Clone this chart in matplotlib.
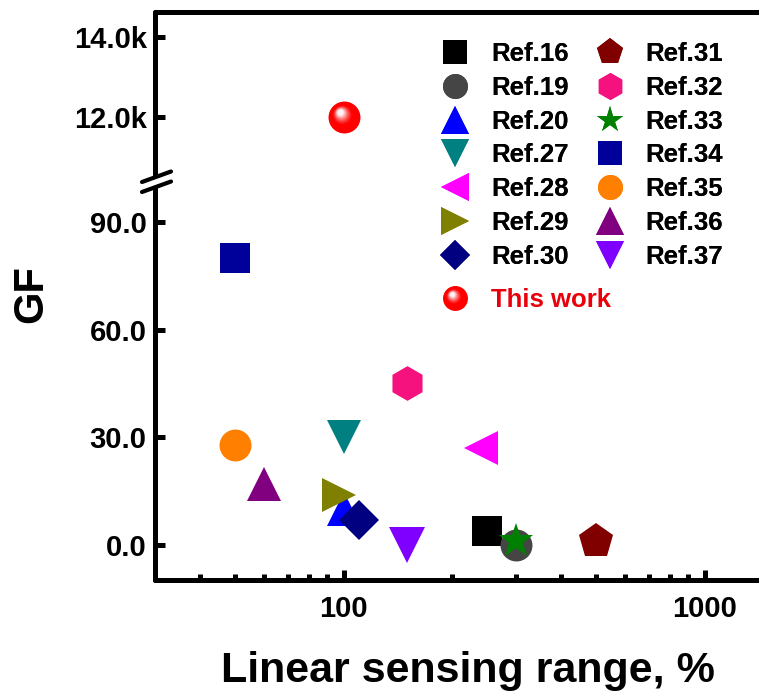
import numpy as np
import matplotlib
matplotlib.use('Agg')
import matplotlib.pyplot as plt
from matplotlib.path import Path
from matplotlib.lines import Line2D
from matplotlib.legend_handler import HandlerTuple
from matplotlib.ticker import FixedLocator, FuncFormatter, NullFormatter, LogLocator

plt.rcParams['font.family'] = ['Liberation Sans', 'DejaVu Sans']
plt.rcParams['font.weight'] = 'bold'

# literature values: linear sensing range (%) and gauge factor
refs = ['Ref.16', 'Ref.19', 'Ref.20', 'Ref.27', 'Ref.28', 'Ref.29', 'Ref.30',
        'Ref.31', 'Ref.32', 'Ref.33', 'Ref.34', 'Ref.35', 'Ref.36', 'Ref.37']
rng = [250, 300, 100, 100, 240, 97, 110, 500, 150, 300, 50, 50, 60, 150]
gf = [4, 0, 10, 30, 27, 14, 7, 1, 45, 1, 80, 28, 17, 0]
markers = ['s', 'o', '^', 'v', '<', '>', 'D', 'p', 'h', '*', 's', 'o', '^', 'v']
colors = ['#000000', '#454545', '#0000ff', '#008080', '#ff00ff', '#808000', '#000080',
          '#800000', '#f5127f', '#008000', '#00009a', '#ff8000', '#800080', '#8000ff']
sizes = [21.5, 23, 25, 25, 25, 25, 20, 26, 25, 26, 21.5, 23, 25, 26]

this_rng = 100
this_gf = 12000

W, H = 759, 698
fig = plt.figure(figsize=(W / 100, H / 100), dpi=100)

def fx(x):
    return x / W

def fy(y):
    return 1 - y / H

left = fx(155)
ax = fig.add_axes([left, fy(580), 1 - left, fy(180) - fy(580)])
ax_top = fig.add_axes([left, fy(180), 1 - left, fy(12) - fy(180)], sharex=ax)

ax.set_xscale('log')
ax.set_xlim(30, 1413)
ax.set_ylim(-9.75, 101.7)
ax_top.set_ylim(10425, 14625)

lw = 3.6
for a in (ax, ax_top):
    a.spines['right'].set_visible(False)
    for s in a.spines.values():
        s.set_linewidth(lw)
        s.set_capstyle('round')
ax.spines['top'].set_visible(False)
ax_top.spines['bottom'].set_visible(False)

ax.xaxis.set_major_locator(FixedLocator([100, 1000]))
ax.xaxis.set_major_formatter(FuncFormatter(lambda v, p: f'{v:g}'))
ax.xaxis.set_minor_locator(LogLocator(base=10, subs=np.arange(2, 10)))
ax.xaxis.set_minor_formatter(NullFormatter())
ax.yaxis.set_major_locator(FixedLocator([0, 30, 60, 90]))
ax.yaxis.set_major_formatter(FuncFormatter(lambda v, p: f'{v:.1f}'))
ax_top.yaxis.set_major_locator(FixedLocator([12000, 14000]))
ax_top.yaxis.set_major_formatter(FuncFormatter(lambda v, p: f'{v / 1000:.1f}k'))

ax.tick_params(axis='both', which='major', direction='in', length=7, width=lw,
               labelsize=21)
ax.tick_params(axis='x', which='major', pad=11)
ax.tick_params(axis='x', which='minor', direction='in', length=4, width=lw)
ax.tick_params(axis='y', which='minor', left=False)
ax.tick_params(axis='y', pad=6)
ax_top.tick_params(axis='y', which='major', direction='in', length=7, width=lw,
                   labelsize=21, pad=6)
ax_top.tick_params(axis='x', which='both', bottom=False, top=False, labelbottom=False)
for a in (ax, ax_top):
    for t in a.get_xticklabels() + a.get_yticklabels():
        t.set_fontweight('bold')

handles = []
for i in range(len(refs)):
    h, = ax.plot(rng[i], gf[i], linestyle='none', marker=markers[i], ms=sizes[i],
                 color=colors[i], mew=0, label=refs[i], clip_on=False)
    handles.append(h)

# shaded red sphere for this work, built from stacked offset discs
def disc(cx, cy, r):
    c = Path.circle((cx, cy), r)
    verts = np.vstack([c.vertices, [[1.0, 1.0]]])
    codes = np.concatenate([c.codes, [Path.MOVETO]])
    return Path(verts, codes)

n = 14
sphere = []
for k in range(n):
    t = k / (n - 1)
    r = 1 - 0.8 * t
    d = 0.4 * t
    w = max(0.0, (t - 0.45) / 0.55) ** 1.3
    col = (1.0, w * 0.95, w * 0.95)
    h, = ax_top.plot(this_rng, this_gf, linestyle='none', marker=disc(-0.62 * d, 0.78 * d, r),
                     ms=23, color=col, mew=0, zorder=5 + k)
    sphere.append(h)

leg = fig.legend(handles, refs, ncol=2, loc='upper left',
                 bbox_to_anchor=(fx(437), fy(42)), frameon=False, fontsize=18.5,
                 markerscale=0.78, handlelength=1.4, handletextpad=0.7,
                 columnspacing=0.9, labelspacing=0.38, borderpad=0, borderaxespad=0)
leg2 = fig.legend([tuple(sphere)], ['This work'], loc='upper left',
                  bbox_to_anchor=(fx(437), fy(288)), frameon=False, fontsize=18.5,
                  markerscale=0.78, handlelength=1.4, handletextpad=0.7,
                  borderpad=0, borderaxespad=0,
                  handler_map={tuple: HandlerTuple(ndivide=1, pad=0)})
leg2.get_texts()[0].set_color('#e8000b')
fig.add_artist(leg)

# axis break marks on the left spine
x0, x1 = 142, 171
fig.add_artist(Line2D([fx(x0), fx(x1)], [fy(187), fy(176.5)], color='white', lw=4.5,
                      transform=fig.transFigure))
for off in (-5, 5):
    fig.add_artist(Line2D([fx(x0), fx(x1)], [fy(187 + off), fy(176.5 + off)], color='black',
                          lw=3.0, solid_capstyle='round', transform=fig.transFigure))

fig.text(fx(468), fy(671), 'Linear sensing range, %', ha='center', va='center',
         fontsize=31, fontweight='bold')
fig.text(fx(31), fy(294), 'GF', ha='center', va='center', rotation=90,
         fontsize=30, fontweight='bold')

fig.savefig('out.png', dpi=100)
